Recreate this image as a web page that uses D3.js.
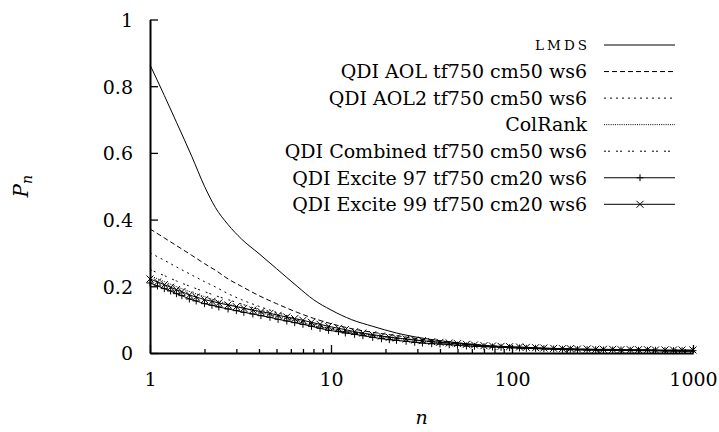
<!DOCTYPE html>
<html lang="en">
<head>
<meta charset="UTF-8">
<title>Pn</title>
<script src="https://cdn.jsdelivr.net/npm/d3@7"></script>
<style>
  body { margin: 0; background: #fff; }
  text { font-family: "DejaVu Serif", serif; fill: #000; }
</style>
</head>
<body>
<svg width="719" height="432" id="mainsvg"></svg>
<script>
// n values for the plain line series
const nCoarse = [1, 1.2, 1.4, 1.7, 2, 2.3, 2.7, 3.2, 4, 5, 6.5, 8, 10, 13, 17, 23, 30, 40, 55, 75, 100, 150, 200, 300, 500, 700, 1000];
const lmds        = [0.864, 0.772, 0.692, 0.590, 0.500, 0.436, 0.385, 0.342, 0.298, 0.253, 0.200, 0.160, 0.129, 0.100, 0.080, 0.060, 0.047, 0.037, 0.028, 0.021, 0.016, 0.012, 0.010, 0.008, 0.007, 0.006, 0.005];
const qdiAol      = [0.372, 0.345, 0.322, 0.293, 0.268, 0.248, 0.222, 0.200, 0.172, 0.148, 0.122, 0.104, 0.088, 0.073, 0.062, 0.052, 0.043, 0.035, 0.028, 0.022, 0.018, 0.014, 0.012, 0.010, 0.008, 0.007, 0.006];
const qdiAol2     = [0.300, 0.278, 0.258, 0.234, 0.214, 0.198, 0.178, 0.160, 0.140, 0.122, 0.102, 0.088, 0.075, 0.063, 0.054, 0.046, 0.039, 0.032, 0.026, 0.021, 0.017, 0.013, 0.011, 0.009, 0.008, 0.007, 0.006];
const colRank     = [0.232, 0.214, 0.199, 0.182, 0.169, 0.158, 0.147, 0.136, 0.122, 0.110, 0.095, 0.082, 0.071, 0.061, 0.052, 0.044, 0.037, 0.031, 0.025, 0.020, 0.017, 0.013, 0.011, 0.009, 0.008, 0.007, 0.006];
const qdiCombined = [0.250, 0.232, 0.216, 0.198, 0.184, 0.172, 0.160, 0.147, 0.130, 0.115, 0.098, 0.085, 0.073, 0.062, 0.053, 0.045, 0.038, 0.031, 0.026, 0.021, 0.017, 0.013, 0.011, 0.009, 0.008, 0.007, 0.006];

// n values for the two series drawn with point markers
const nFine = [1, 1.1, 1.2, 1.3, 1.4, 1.5, 1.65, 1.8, 2, 2.2,
               2.4, 2.7, 3, 3.3, 3.7, 4.1, 4.6, 5.1, 5.7, 6.3,
               7, 7.8, 8.7, 9.7, 11, 12, 13.5, 15, 17, 19,
               21, 23, 26, 29, 32, 36, 40, 45, 50, 56,
               62, 70, 78, 87, 97, 110, 120, 135, 150, 170,
               190, 210, 230, 260, 290, 320, 360, 400, 450, 500,
               560, 620, 700, 780, 870, 1000];
const excite97 = [0.210, 0.201, 0.193, 0.186, 0.178, 0.172, 0.162, 0.156, 0.148, 0.143,
                  0.138, 0.132, 0.127, 0.122, 0.117, 0.112, 0.107, 0.101, 0.096, 0.091,
                  0.086, 0.080, 0.074, 0.068, 0.064, 0.060, 0.056, 0.052, 0.047, 0.043,
                  0.040, 0.038, 0.035, 0.032, 0.030, 0.028, 0.027, 0.025, 0.023, 0.021,
                  0.020, 0.019, 0.018, 0.017, 0.016, 0.015, 0.014, 0.014, 0.013, 0.012,
                  0.011, 0.011, 0.010, 0.010, 0.010, 0.009, 0.009, 0.009, 0.008, 0.008,
                  0.008, 0.008, 0.007, 0.007, 0.007, 0.007];
const excite99 = [0.222, 0.213, 0.205, 0.197, 0.190, 0.184, 0.174, 0.168, 0.160, 0.155,
                  0.150, 0.144, 0.139, 0.134, 0.129, 0.124, 0.119, 0.113, 0.108, 0.103,
                  0.098, 0.092, 0.086, 0.080, 0.074, 0.070, 0.064, 0.060, 0.055, 0.051,
                  0.047, 0.045, 0.042, 0.039, 0.037, 0.034, 0.032, 0.030, 0.028, 0.026,
                  0.024, 0.022, 0.021, 0.020, 0.019, 0.018, 0.017, 0.016, 0.015, 0.014,
                  0.013, 0.013, 0.012, 0.012, 0.011, 0.011, 0.011, 0.010, 0.010, 0.010,
                  0.010, 0.009, 0.009, 0.009, 0.009, 0.009];

const yTicks = [0, 0.2, 0.4, 0.6, 0.8, 1];
const yTickLabels = ['0', '0.2', '0.4', '0.6', '0.8', '1'];
const xTicks = [1, 10, 100, 1000];
const xTickLabels = ['1', '10', '100', '1000'];

const seriesNames = ['LMDS', 'QDI AOL tf750 cm50 ws6', 'QDI AOL2 tf750 cm50 ws6', 'ColRank',
                     'QDI Combined tf750 cm50 ws6', 'QDI Excite 97 tf750 cm20 ws6', 'QDI Excite 99 tf750 cm20 ws6'];

const series = [
  {name: seriesNames[0], n: nCoarse, v: lmds, dash: null},
  {name: seriesNames[1], n: nCoarse, v: qdiAol, dash: '5,3'},
  {name: seriesNames[2], n: nCoarse, v: qdiAol2, dash: '2,4'},
  {name: seriesNames[3], n: nCoarse, v: colRank, dash: '1,1.2'},
  {name: seriesNames[4], n: nCoarse, v: qdiCombined, dash: '2,2,2,6'},
  {name: seriesNames[5], n: nFine, v: excite97, dash: null, marker: 'plus'},
  {name: seriesNames[6], n: nFine, v: excite99, dash: null, marker: 'cross'}
];

const svg = d3.select('svg');
const width = +svg.attr('width');
const height = +svg.attr('height');
const margin = {top: 19.5, right: 26, bottom: 79, left: 150};

const xScale = d3.scaleLog().domain([1, 1000]).range([margin.left, width - margin.right]);
const yScale = d3.scaleLinear().domain([0, 1]).range([height - margin.bottom, margin.top]);

const fontSize = 19;

// axes (ticks point inward, like gnuplot)
const yAxis = d3.axisLeft(yScale)
  .tickValues(yTicks)
  .tickFormat((d, i) => yTickLabels[i])
  .tickSizeInner(-8).tickSizeOuter(0).tickPadding(17);
const yAxisGroup = svg.append('g')
  .attr('transform', `translate(${margin.left},0)`)
  .call(yAxis);

const minorTicks = xScale.ticks().filter(d => !xTicks.includes(d));
svg.append('g')
  .attr('transform', `translate(0,${height - margin.bottom})`)
  .call(d3.axisBottom(xScale).tickValues(minorTicks).tickFormat('').tickSizeInner(-4).tickSizeOuter(0))
  .call(g => g.select('.domain').remove());

const xAxis = d3.axisBottom(xScale)
  .tickValues(xTicks)
  .tickFormat((d, i) => xTickLabels[i])
  .tickSizeInner(-8).tickSizeOuter(0).tickPadding(17);
const xAxisGroup = svg.append('g')
  .attr('transform', `translate(0,${height - margin.bottom})`)
  .call(xAxis);

svg.selectAll('.domain').attr('stroke-width', 2).attr('stroke', '#000');
svg.selectAll('.tick line').attr('stroke-width', 1.3).attr('stroke', '#000');
svg.selectAll('.tick text')
  .attr('font-family', '"DejaVu Serif", serif')
  .attr('font-size', fontSize + 'px')
  .attr('fill', '#000');
yAxisGroup.selectAll('.tick text').attr('dy', '0.36em');
xAxisGroup.selectAll('.tick text').attr('dy', '0.85em');

// curves
const line = d3.line()
  .x(d => xScale(d[0]))
  .y(d => yScale(d[1]))
  .curve(d3.curveMonotoneX);

const plot = svg.append('g');
series.forEach(s => {
  const pts = s.n.map((n, i) => [n, s.v[i]]);
  plot.append('path')
    .attr('d', line(pts))
    .attr('fill', 'none')
    .attr('stroke', '#000')
    .attr('stroke-width', 1)
    .attr('stroke-dasharray', s.dash);
});

const ms = 3.5;
const markerPath = (type, x, y) => type === 'plus'
  ? `M${x - ms},${y}H${x + ms}M${x},${y - ms}V${y + ms}`
  : `M${x - ms},${y - ms}L${x + ms},${y + ms}M${x - ms},${y + ms}L${x + ms},${y - ms}`;

series.filter(s => s.marker).forEach(s => {
  plot.append('g').selectAll('path')
    .data(s.n.map((n, i) => [n, s.v[i]]))
    .join('path')
    .attr('d', d => markerPath(s.marker, xScale(d[0]), yScale(d[1])))
    .attr('fill', 'none')
    .attr('stroke', '#000')
    .attr('stroke-width', 1);
});

// legend
const legend = svg.append('g');
const rowY = i => 45 + i * 26.55;
series.forEach((s, i) => {
  const t = legend.append('text')
    .attr('x', 587)
    .attr('y', rowY(i))
    .attr('dy', '0.36em')
    .attr('text-anchor', 'end')
    .attr('font-size', fontSize + 'px')
    .text(s.name);
  if (s.name === 'LMDS') {
    // small caps in the original
    t.attr('font-size', '13.5px')
      .attr('textLength', 52)
      .attr('lengthAdjust', 'spacing');
  }
  legend.append('line')
    .attr('x1', 604).attr('x2', 675)
    .attr('y1', rowY(i)).attr('y2', rowY(i))
    .attr('stroke', '#000')
    .attr('stroke-width', 1)
    .attr('stroke-dasharray', s.dash);
  if (s.marker) {
    legend.append('path')
      .attr('d', markerPath(s.marker, 640, rowY(i)))
      .attr('fill', 'none')
      .attr('stroke', '#000')
      .attr('stroke-width', 1);
  }
});

// axis titles
const yTitle = svg.append('text')
  .attr('transform', `translate(28,${(yScale(0) + yScale(1)) / 2}) rotate(-90)`)
  .attr('text-anchor', 'middle')
  .attr('font-size', '20px')
  .attr('font-style', 'italic');
yTitle.append('tspan').text('P');
yTitle.append('tspan').attr('dy', '0.3em').attr('font-size', '14px').text('n');

svg.append('text')
  .attr('x', (xScale(1) + xScale(1000)) / 2)
  .attr('y', 424)
  .attr('text-anchor', 'middle')
  .attr('font-size', fontSize + 'px')
  .attr('font-style', 'italic')
  .text('n');
</script>
</body>
</html>
